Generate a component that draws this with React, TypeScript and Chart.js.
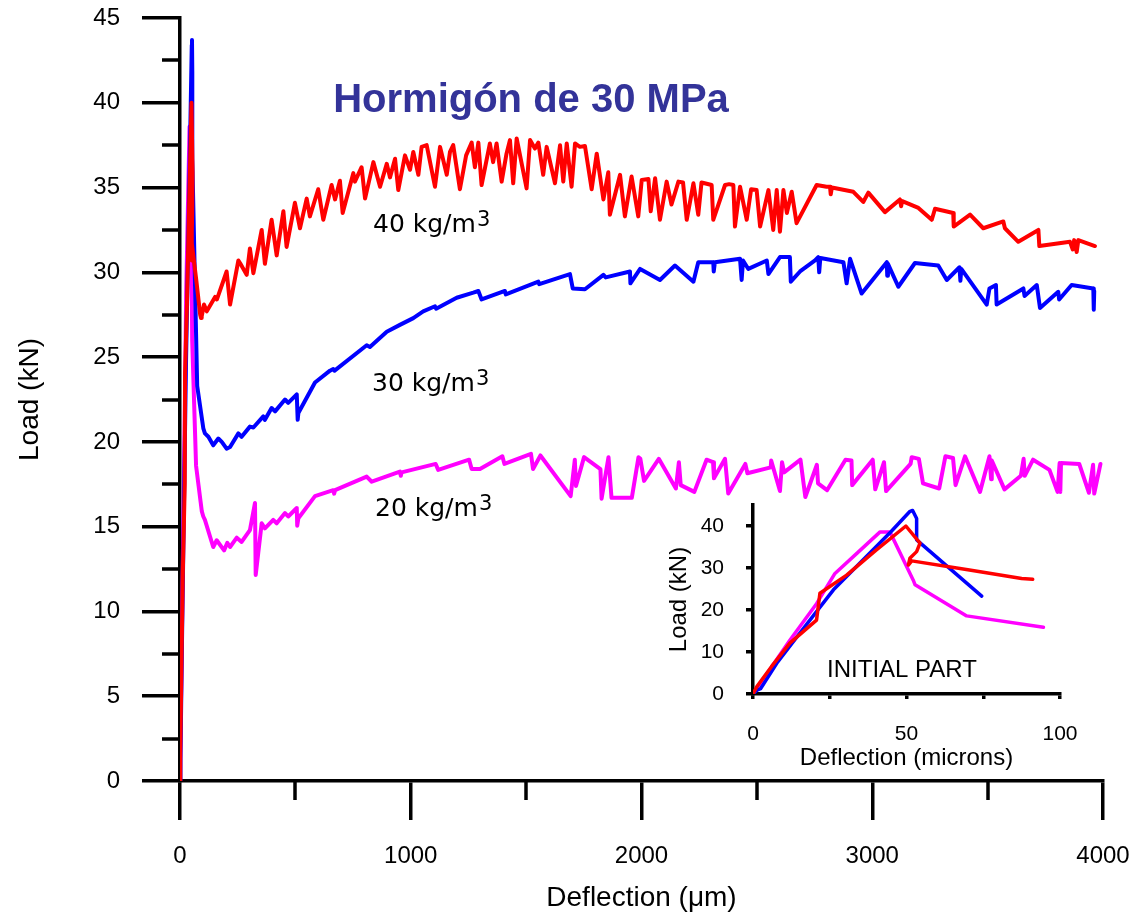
import React, { useEffect, useRef } from 'react';
import { Chart, registerables } from 'chart.js';

Chart.register(...registerables);

type Pt = [number, number];

// ---------- DATA (deflection in µm, load in kN) ----------
// Initial part (also shown in the inset)
const red40Initial: Pt[] = [
  [0, 0], [1.2, 1.7], [6, 6.5], [12, 12.1], [20.7, 17.6], [21.8, 24], [30.5, 28.3], [40, 34.2],
  [49.8, 40], [54.4, 35.9], [53.3, 33.9], [51.1, 32.3], [50.6, 30.7], [51.7, 31.7], [70, 29.6],
  [87.5, 27.5], [91.1, 27.3],
];
const blue30Initial: Pt[] = [
  [0, 0], [1.5, 1.0], [2.5, 1.3], [8, 7.6], [14, 13.3], [21, 19.9], [26.2, 24.8], [35, 31.3],
  [45, 38.7], [51, 43.4], [52, 43.7], [53.3, 41.8], [53.3, 36.7], [74.5, 23.3],
];
const magenta20Initial: Pt[] = [
  [0, 0], [12, 12.8], [20.7, 21.5], [26.7, 28.7], [34, 33.6], [41.4, 38.6], [44.6, 38.6],
  [52.2, 27.1], [52.8, 26], [69.6, 18.6], [94.6, 15.9],
];

// Remainder of each curve
const red40Rest: Pt[] = [
  [94, 27.4], [104, 28.1], [116, 27.7], [152, 28.55], [160, 28.4], [202, 30.05], [217, 28.1], [253, 30.7],
  [262, 30.5], [289, 29.85], [303, 31.4], [318, 29.95], [354, 32.5], [368, 30.5], [397, 33.1], [419, 31.0],
  [448, 33.6], [462, 31.5], [498, 34.1], [520, 32.6], [549, 34.35], [563, 33.3], [599, 34.9], [621, 33.1],
  [657, 35.15], [672, 34.3], [693, 35.4], [705, 33.5], [751, 35.85], [758, 35.35], [787, 36.2], [802, 34.35],
  [838, 36.5], [867, 35.05], [896, 36.4], [910, 35.6], [932, 36.7], [946, 34.85], [975, 36.9], [997, 36.05],
  [1011, 37.1], [1033, 35.75], [1047, 37.4], [1069, 37.5], [1105, 35.05], [1127, 37.4], [1156, 35.75],
  [1170, 37.1], [1184, 37.5], [1213, 34.9], [1240, 36.9], [1264, 37.65], [1278, 36.2], [1293, 37.65],
  [1307, 35.15], [1343, 37.6], [1357, 36.5], [1372, 37.6], [1394, 35.35], [1415, 37.0], [1430, 37.8],
  [1444, 35.25], [1459, 37.9], [1502, 34.95], [1517, 37.8], [1538, 37.3], [1553, 37.65], [1574, 35.75],
  [1589, 37.4], [1625, 35.25], [1647, 37.5], [1661, 35.35], [1676, 37.6], [1697, 35.05], [1712, 37.6],
  [1733, 37.4], [1755, 37.45], [1784, 34.9], [1806, 37.0], [1835, 34.3], [1856, 35.9], [1863, 33.4],
  [1907, 35.75], [1928, 33.3], [1957, 35.65], [1986, 33.3], [2001, 35.45], [2030, 35.5], [2040, 33.6],
  [2059, 35.55], [2080, 33.1], [2109, 35.35], [2130, 34.0], [2160, 35.35], [2180, 35.3], [2196, 33.1],
  [2225, 35.25], [2246, 33.4], [2260, 35.3], [2304, 35.15], [2311, 33.1], [2362, 35.15], [2380, 35.2],
  [2398, 35.15], [2405, 32.7], [2427, 35.05], [2456, 33.1], [2475, 34.9], [2499, 34.85], [2514, 32.7],
  [2550, 34.85], [2571, 32.5], [2586, 34.85], [2600, 32.4], [2615, 34.85], [2630, 33.5], [2651, 34.75],
  [2672, 32.9], [2759, 35.15], [2802, 35.05], [2817, 35.05], [2820, 34.6], [2825, 35.0], [2918, 34.75],
  [2961, 34.15], [2983, 34.7], [3055, 33.55], [3120, 34.3], [3125, 33.9], [3130, 34.2], [3200, 33.8],
  [3258, 33.1], [3272, 33.75], [3351, 33.5], [3353, 32.7], [3424, 33.4], [3481, 32.6], [3568, 33.0],
  [3575, 32.6], [3633, 31.8], [3720, 32.5], [3724, 31.55], [3857, 31.8], [3869, 31.35], [3875, 31.9],
  [3886, 31.2], [3893, 31.9], [3965, 31.55],
];
const blue30Rest: Pt[] = [
  [101, 20.8], [108, 20.5], [123, 20.3], [144, 19.8], [166, 20.2], [181, 20.0], [202, 19.6], [217, 19.7],
  [253, 20.5], [267, 20.3], [303, 20.9], [318, 20.85], [361, 21.5], [368, 21.3], [397, 22.0], [412, 21.8],
  [455, 22.5], [469, 22.3], [506, 22.8], [510, 21.3], [513, 21.7], [585, 23.5], [650, 24.2], [664, 24.3],
  [670, 24.2], [809, 25.7], [823, 25.6], [896, 26.5], [953, 26.9], [1011, 27.3], [1054, 27.7], [1105, 28.0],
  [1110, 27.85], [1199, 28.5], [1271, 28.8], [1293, 28.9], [1307, 28.4], [1408, 28.9], [1412, 28.7],
  [1553, 29.45], [1557, 29.3], [1690, 29.9], [1702, 29.05], [1755, 29.0], [1835, 29.85], [1845, 29.7],
  [1950, 30.05], [1952, 29.35], [1994, 30.2], [2080, 29.55], [2145, 30.4], [2225, 29.45], [2246, 30.6],
  [2311, 30.6], [2313, 30.05], [2318, 30.6], [2427, 30.8], [2434, 29.55], [2440, 30.7], [2463, 30.2],
  [2543, 30.7], [2550, 29.9], [2600, 30.9], [2643, 30.9], [2647, 29.45], [2687, 30.05], [2752, 30.7],
  [2766, 30.9], [2770, 30.0], [2775, 30.85], [2875, 30.6], [2889, 29.35], [2904, 30.8], [2954, 28.75],
  [3063, 30.6], [3065, 29.8], [3068, 30.5], [3113, 29.15], [3185, 30.55], [3286, 30.4], [3323, 29.55],
  [3378, 30.3], [3382, 29.5], [3386, 30.2], [3496, 28.1], [3508, 29.05], [3536, 29.25], [3539, 28.1],
  [3655, 29.05], [3660, 28.6], [3713, 29.25], [3727, 27.9], [3806, 28.85], [3810, 28.4], [3864, 29.25],
  [3958, 29.05], [3960, 27.8], [3962, 28.9],
];
const magenta20Rest: Pt[] = [
  [101, 15.6], [108, 15.4], [144, 13.8], [159, 14.2], [191, 13.6], [205, 14.05], [217, 13.8], [246, 14.35],
  [267, 14.1], [303, 14.8], [325, 16.4], [328, 12.15], [354, 15.2], [368, 14.9], [404, 15.4], [419, 15.2],
  [455, 15.8], [469, 15.6], [506, 16.1], [508, 15.05], [513, 15.5], [585, 16.8], [664, 17.15], [668, 16.95],
  [672, 17.15], [809, 17.95], [831, 17.65], [953, 18.25], [957, 18.0], [960, 18.2], [1108, 18.7],
  [1119, 18.35], [1253, 18.95], [1264, 18.4], [1300, 18.4], [1397, 19.15], [1406, 18.7], [1521, 19.3],
  [1530, 18.4], [1562, 19.2], [1693, 16.8], [1711, 18.95], [1716, 17.4], [1751, 19.1], [1822, 18.4],
  [1827, 16.65], [1857, 19.1], [1870, 16.7], [1958, 16.7], [1987, 19.1], [1995, 19.0], [2011, 17.7],
  [2075, 19.0], [2149, 17.25], [2162, 18.8], [2170, 17.45], [2229, 17.05], [2282, 18.95], [2310, 18.8],
  [2314, 17.85], [2362, 19.0], [2376, 16.95], [2450, 18.7], [2459, 18.15], [2560, 18.5], [2562, 18.9],
  [2600, 17.1], [2609, 18.8], [2618, 18.2], [2689, 18.95], [2710, 16.75], [2760, 18.65], [2765, 17.55],
  [2804, 17.15], [2884, 18.95], [2910, 18.9], [2913, 17.45], [3002, 18.95], [3013, 17.2], [3051, 18.8],
  [3060, 17.1], [3166, 18.7], [3171, 19.1], [3202, 19.0], [3220, 17.55], [3290, 17.25], [3317, 19.15],
  [3350, 19.05], [3361, 17.45], [3402, 19.15], [3467, 17.05], [3508, 19.15], [3515, 17.8], [3518, 18.9],
  [3573, 17.2], [3644, 18.0], [3656, 19.0], [3661, 18.0], [3697, 18.95], [3768, 18.35], [3803, 17.05],
  [3812, 18.75], [3815, 17.05], [3818, 18.75], [3897, 18.7], [3939, 17.0], [3957, 18.65], [3962, 16.95],
  [3989, 18.7],
];

const seriesLabels = ['40 kg/m', '30 kg/m', '20 kg/m'];
const seriesColors = ['#ff0000', '#0000ff', '#ff00ff'];
const chartTitle = 'Hormigón de 30 MPa';
const insetNote = 'INITIAL PART';

const yMinorTicks = [2.5, 7.5, 12.5, 17.5, 22.5, 27.5, 32.5, 37.5, 42.5];
const xMinorTicks = [500, 1500, 2500, 3500];
const insetXLabelled = [0, 50, 100];

const FONT = '"Liberation Sans", Arial, sans-serif';
Chart.defaults.font.family = FONT;
Chart.defaults.color = '#000';

const toXY = (pts: Pt[]) => pts.map(([x, y]) => ({ x, y }));

const lineDs = (label: string, pts: Pt[], color: string, width: number) => ({
  label,
  data: toXY(pts),
  borderColor: color,
  backgroundColor: color,
  borderWidth: width,
  pointRadius: 0,
  tension: 0,
  fill: false,
  borderJoinStyle: 'round' as const,
  borderCapStyle: 'round' as const,
});

// keep chart-area geometry fixed: drop the label-overflow padding Chart.js adds
const fixPad = (s: any) => {
  s.paddingTop = 0;
  s.paddingBottom = 0;
  s.paddingLeft = 0;
  s.paddingRight = 0;
};

const mainDecor = {
  id: 'mainDecor',
  afterDraw(chart: any) {
    const { ctx, chartArea } = chart;
    const xs = chart.scales.x;
    const ys = chart.scales.y;
    ctx.save();
    ctx.strokeStyle = '#000';
    ctx.lineWidth = 3.5;
    for (const v of yMinorTicks) {
      const py = Math.round(ys.getPixelForValue(v));
      ctx.beginPath();
      ctx.moveTo(chartArea.left - 18, py);
      ctx.lineTo(chartArea.left, py);
      ctx.stroke();
    }
    for (const v of xMinorTicks) {
      const px = Math.round(xs.getPixelForValue(v));
      ctx.beginPath();
      ctx.moveTo(px, chartArea.bottom);
      ctx.lineTo(px, chartArea.bottom + 19);
      ctx.stroke();
    }
    // title
    ctx.fillStyle = '#333399';
    ctx.font = `bold 40px ${FONT}`;
    ctx.textAlign = 'center';
    ctx.textBaseline = 'alphabetic';
    ctx.fillText(chartTitle, 531, 112);
    // curve labels
    const pos = [
      [373, 232],
      [372, 391],
      [375, 516],
    ];
    ctx.fillStyle = '#000';
    ctx.textAlign = 'left';
    seriesLabels.forEach((t, i) => {
      const [x, y] = pos[i];
      ctx.font = '25px "DejaVu Sans", sans-serif';
      ctx.fillText(t, x, y);
      const w = ctx.measureText(t).width;
      ctx.font = '21px "DejaVu Sans", sans-serif';
      ctx.fillText('3', x + w + 1, y - 6);
    });
    ctx.restore();
  },
};

const insetDecor = {
  id: 'insetDecor',
  afterDraw(chart: any) {
    const { ctx } = chart;
    ctx.save();
    ctx.fillStyle = '#000';
    ctx.font = `24px ${FONT}`;
    ctx.textAlign = 'center';
    ctx.textBaseline = 'middle';
    ctx.fillText(insetNote, 262, 190);
    ctx.restore();
  },
};

export default function App() {
  const mainRef = useRef<HTMLCanvasElement>(null);
  const insetRef = useRef<HTMLCanvasElement>(null);

  useEffect(() => {
    const axisCommon = {
      type: 'linear' as const,
      border: { display: true, color: '#000', width: 3.5 },
    };
    const main = new Chart(mainRef.current as HTMLCanvasElement, {
      type: 'line',
      data: {
        datasets: [
          lineDs(seriesLabels[0], [...red40Initial, ...red40Rest], seriesColors[0], 4),
          lineDs(seriesLabels[1], [...blue30Initial, ...blue30Rest], seriesColors[1], 4),
          lineDs(seriesLabels[2], [...magenta20Initial, ...magenta20Rest], seriesColors[2], 4),
        ],
      },
      options: {
        responsive: false,
        animation: false,
        events: [],
        layout: { padding: { top: 18, right: 38, left: 0, bottom: 0 } },
        plugins: { legend: { display: false }, tooltip: { enabled: false } },
        scales: {
          x: {
            ...axisCommon,
            min: 0,
            max: 4000,
            grid: { display: true, drawOnChartArea: false, drawTicks: true, tickLength: 39, color: '#000', lineWidth: 3.5 },
            ticks: {
              stepSize: 1000,
              padding: 22,
              color: '#000',
              font: { size: 24 },
              maxRotation: 0,
              autoSkip: false,
              callback: (v: any) => String(v),
            },
            title: { display: true, text: 'Deflection (μm)', color: '#000', font: { size: 28 }, padding: { top: 0, bottom: 2 } },
            afterFit: (s: any) => { s.height = 136; fixPad(s); },
          },
          y: {
            ...axisCommon,
            min: 0,
            max: 45,
            grid: { display: true, drawOnChartArea: false, drawTicks: true, tickLength: 38, color: '#000', lineWidth: 3.5 },
            ticks: { stepSize: 5, padding: 22, color: '#000', font: { size: 24 }, autoSkip: false, callback: (v: any) => String(v) },
            title: { display: true, text: 'Load (kN)', color: '#000', font: { size: 28 }, padding: { top: 13, bottom: 0 } },
            afterFit: (s: any) => { s.width = 180; fixPad(s); },
          },
        },
      },
      plugins: [mainDecor],
    } as any);

    const inset = new Chart(insetRef.current as HTMLCanvasElement, {
      type: 'line',
      data: {
        datasets: [
          lineDs(seriesLabels[0], red40Initial, seriesColors[0], 3.5),
          lineDs(seriesLabels[1], blue30Initial, seriesColors[1], 3.5),
          lineDs(seriesLabels[2], magenta20Initial, seriesColors[2], 3.5),
        ],
      },
      options: {
        responsive: false,
        animation: false,
        events: [],
        layout: { padding: { top: 25, right: 60, left: 0, bottom: 0 } },
        plugins: { legend: { display: false }, tooltip: { enabled: false } },
        scales: {
          x: {
            ...axisCommon,
            min: 0,
            max: 100,
            grid: { display: true, drawOnChartArea: false, drawTicks: true, tickLength: 5, color: '#000', lineWidth: 3.5 },
            ticks: {
              stepSize: 25,
              padding: 23,
              color: '#000',
              font: { size: 21 },
              maxRotation: 0,
              autoSkip: false,
              callback: (v: any) => (insetXLabelled.includes(Number(v)) ? String(v) : ''),
            },
            title: { display: true, text: 'Deflection (microns)', color: '#000', font: { size: 24 }, padding: { top: 0, bottom: 7 } },
            afterFit: (s: any) => { s.height = 86; fixPad(s); },
          },
          y: {
            ...axisCommon,
            min: 0,
            max: 45,
            grid: { display: true, drawOnChartArea: false, drawTicks: true, tickLength: 7, color: '#000', lineWidth: 3.5 },
            ticks: { stepSize: 10, includeBounds: false, padding: 22, color: '#000', font: { size: 21 }, autoSkip: false },
            title: { display: true, text: 'Load (kN)', color: '#000', font: { size: 24 }, padding: { top: 25, bottom: 0 } },
            afterFit: (s: any) => { s.width = 113; fixPad(s); },
          },
        },
      },
      plugins: [insetDecor],
    } as any);

    return () => {
      main.destroy();
      inset.destroy();
    };
  }, []);

  return (
    <div style={{ position: 'absolute', left: 0, top: 0, width: 1141, height: 917, background: '#fff', overflow: 'hidden' }}>
      <canvas ref={mainRef} width={1141} height={917} style={{ position: 'absolute', left: 0, top: 0 }} />
      <canvas ref={insetRef} width={480} height={300} style={{ position: 'absolute', left: 640, top: 480 }} />
    </div>
  );
}
